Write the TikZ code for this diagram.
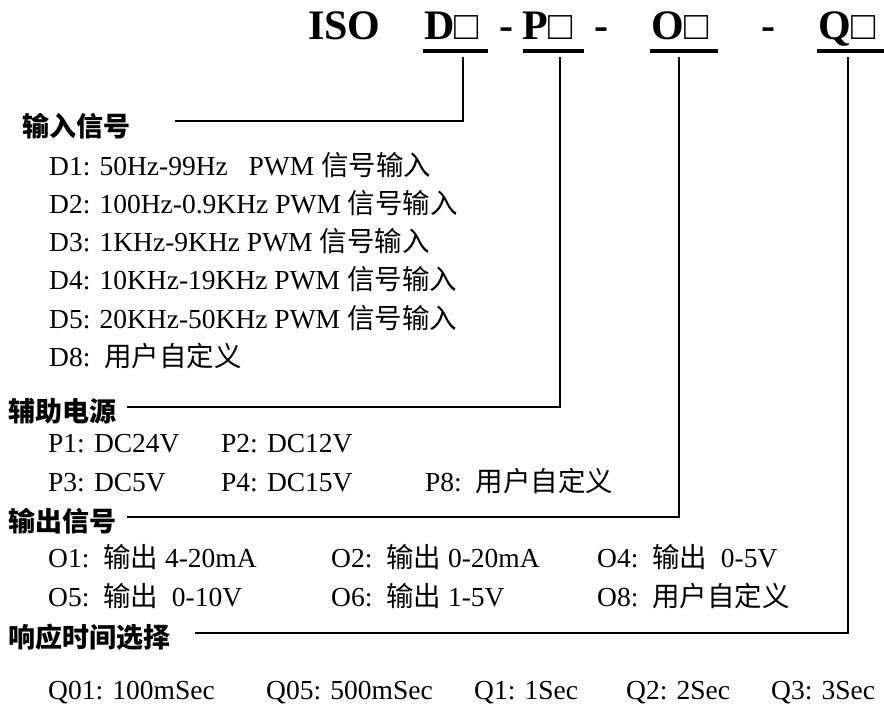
\documentclass[tikz,border=0pt]{standalone}
\usepackage{fontspec}
\setmainfont{Liberation Serif}
\newfontfamily\cjk{Noto Sans CJK SC}
\begin{document}
\begin{tikzpicture}[x=1pt,y=-1pt,
  body/.style={anchor=base west, inner sep=0pt, font=\fontsize{27.5}{30}\selectfont},
  head/.style={anchor=west, inner sep=0pt, font=\fontsize{27}{30}\selectfont\cjk\bfseries},
  ttl/.style={anchor=base west, inner sep=0pt, font=\fontsize{42}{46}\selectfont\bfseries},
  sq/.style={anchor=base west, inner sep=0pt, font=\fontsize{40}{44}\selectfont},
  conn/.style={line width=1.6pt},
  ul/.style={line width=4pt}]
\useasboundingbox (0,0) rectangle (884,722);
% title
\node[ttl] (iso) at (308,40) {ISO};
\node[ttl] (dL) at (424,40) {D};
\node[sq] (dS) at (dL.base east) {□};
\node[ttl] (h1) at (499,40) {-};
\node[ttl] (pL) at (522,40) {P};
\node[sq] (pS) at (pL.base east) {□};
\node[ttl] (h2) at (594,40) {-};
\node[ttl] (oL) at (651,40) {O};
\node[sq] (oS) at (oL.base east) {□};
\node[ttl] (h3) at (761,40) {-};
\node[ttl] (qL) at (818,40) {Q};
\node[sq] (qS) at (qL.base east) {□};
\draw[ul] (423,51) -- (488,51);
\draw[ul] (523,51) -- (584,51);
\draw[ul] (650,51) -- (718,51);
\draw[ul] (817,51) -- (884,51);
\coordinate (dU) at (463,57);
\coordinate (pU) at (560,57);
\coordinate (oU) at (679,57);
\coordinate (qU) at (848,57);
% headings
\node[head] (hin) at (22,126) {输入信号};
\node[head] (hpw) at (8,411) {辅助电源};
\node[head] (hout) at (8,521) {输出信号};
\node[head] (hrs) at (8,637) {响应时间选择};
\coordinate (inL) at (175,121);
\coordinate (pwL) at (127,407);
\coordinate (outL) at (127,517);
\coordinate (rsL) at (195,633);
\draw[conn] (dU) |- (inL);
\draw[conn] (pU) |- (pwL);
\draw[conn] (oU) |- (outL);
\draw[conn] (qU) |- (rsL);
% D rows
\node[body] (d1) at (49,176) {D1: 50Hz-99Hz\ \ \ PWM {\cjk 信号输入}};
\node[body] (d2) at (49,214) {D2: 100Hz-0.9KHz PWM {\cjk 信号输入}};
\node[body] (d3) at (49,252) {D3: 1KHz-9KHz PWM {\cjk 信号输入}};
\node[body] (d4) at (49,290) {D4: 10KHz-19KHz PWM {\cjk 信号输入}};
\node[body] (d5) at (49,328) {D5: 20KHz-50KHz PWM {\cjk 信号输入}};
\node[body] (d8) at (49,366) {D8:\ \ {\cjk 用户自定义}};
% P rows
\node[body] (p1) at (48,452) {P1: DC24V};
\node[body] (p2) at (221,452) {P2: DC12V};
\node[body] (p3) at (48,491) {P3: DC5V};
\node[body] (p4) at (221,491) {P4: DC15V};
\node[body] (p8) at (425,491) {P8:\ \ {\cjk 用户自定义}};
% O rows
\node[body] (o1) at (48,567) {O1:\ \ {\cjk 输出} 4-20mA};
\node[body] (o2) at (331,567) {O2:\ \ {\cjk 输出} 0-20mA};
\node[body] (o4) at (597,567) {O4:\ \ {\cjk 输出}\ \ 0-5V};
\node[body] (o5) at (48,606) {O5:\ \ {\cjk 输出}\ \ 0-10V};
\node[body] (o6) at (331,606) {O6:\ \ {\cjk 输出} 1-5V};
\node[body] (o8) at (597,606) {O8:\ \ {\cjk 用户自定义}};
% Q row
\node[body] (q01) at (48,699) {Q01: 100mSec};
\node[body] (q05) at (266,699) {Q05: 500mSec};
\node[body] (q1) at (474,699) {Q1: 1Sec};
\node[body] (q2) at (626,699) {Q2: 2Sec};
\node[body] (q3) at (771,699) {Q3: 3Sec};
\end{tikzpicture}
\end{document}
